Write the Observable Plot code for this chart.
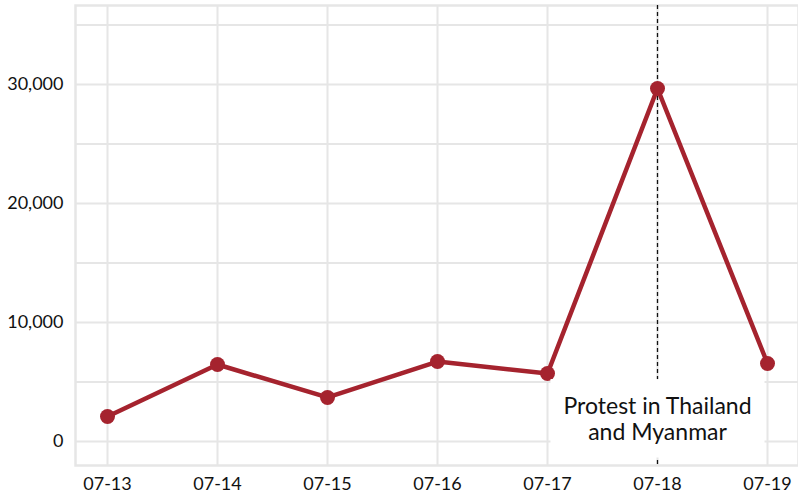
<!DOCTYPE html>
<html>
<head>
<meta charset="utf-8">
<script src="https://cdn.jsdelivr.net/npm/d3@7"></script>
<script src="https://cdn.jsdelivr.net/npm/@observablehq/plot@0.6"></script>
<style>
  html, body { margin: 0; padding: 0; background: #fff; }
  #chart svg { display: block; }
</style>
</head>
<body>
<div id="chart"></div>
<script>
const dates = ["07-13", "07-14", "07-15", "07-16", "07-17", "07-18", "07-19"];
const counts = [2100, 6470, 3700, 6720, 5710, 29660, 6550];
const eventDate = ["07-18"];
const eventLabel = ["Protest in Thailand\nand Myanmar"];
const gridTicks = [0, 5000, 10000, 15000, 20000, 25000, 30000, 35000];
const labelTicks = [0, 10000, 20000, 30000];

const data = dates.map((d, i) => ({date: d, count: counts[i]}));
const events = eventDate.map((d, i) => ({date: d, label: eventLabel[i], y: 0}));

const lineColor = "#a5232e";
const gridColor = "#e6e6e6";

const chart = Plot.plot({
  width: 798,
  height: 499,
  marginLeft: 75,
  marginRight: 0,
  marginTop: 5,
  marginBottom: 34,
  style: {fontFamily: "Lato, 'Noto Sans', sans-serif", fontSize: "18px", color: "#111"},
  x: {type: "point", domain: dates, padding: 0.286, label: null},
  y: {domain: [-2017, 36638], label: null},
  marks: [
    Plot.gridY(gridTicks, {stroke: gridColor, strokeOpacity: 1, strokeWidth: 2}),
    Plot.gridX(dates, {stroke: gridColor, strokeOpacity: 1, strokeWidth: 2}),
    Plot.frame({stroke: gridColor, strokeWidth: 2.5}),
    Plot.ruleX(events, {x: "date", stroke: "#111", strokeWidth: 1.3, strokeDasharray: "4,3"}),
    Plot.line(data, {x: "date", y: "count", stroke: lineColor, strokeWidth: 4.5}),
    Plot.dot(data, {x: "date", y: "count", fill: lineColor, r: 7.5}),
    Plot.text(events, {x: "date", y: "y", text: "label", lineAnchor: "bottom", dy: -1,
      fontSize: 23, fill: "#111", lineHeight: 1.15}),
    Plot.axisY(labelTicks, {tickSize: 0, tickPadding: 12, tickFormat: d3.format(","), fontSize: 18}),
    Plot.axisX(dates, {tickSize: 0, tickPadding: 12, fontSize: 18})
  ]
});
document.getElementById("chart").appendChild(chart);

// white box behind the annotation label, sized from the rendered text
d3.select(chart).selectAll("text")
  .filter(function() { return eventLabel.some(l => this.textContent.replace(/\s+/g, "") === l.replace(/\s+/g, "")); })
  .each(function() {
    const bb = this.getBBox();
    const padX = 13, padY = 12;
    d3.select(this.parentNode).insert("rect", () => this)
      .attr("transform", this.getAttribute("transform"))
      .attr("x", bb.x - padX)
      .attr("y", bb.y - padY)
      .attr("width", bb.width + 2 * padX)
      .attr("height", bb.height + 2 * padY)
      .attr("fill", "white")
      .attr("stroke", "none");
  });
</script>
</body>
</html>
